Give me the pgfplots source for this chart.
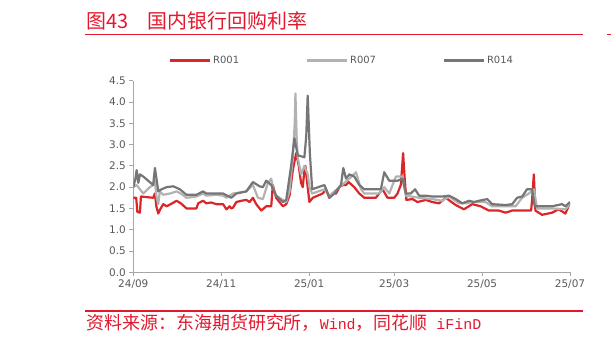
\documentclass[border=0pt]{standalone}
\usepackage{pgfplots}
\pgfplotsset{compat=1.18}
\usepackage{fontspec}
\setmainfont{DejaVu Sans}
\newfontfamily\cjk{Noto Sans CJK SC}
\newfontfamily\mono{Liberation Mono}
\definecolor{rred}{RGB}{218,37,41}
\definecolor{lgray}{RGB}{178,178,178}
\definecolor{dgray}{RGB}{118,118,118}
\definecolor{titlered}{RGB}{226,24,46}
\definecolor{tickgray}{RGB}{89,89,89}
\definecolor{axgray}{RGB}{166,166,166}
\begin{document}
\begin{tikzpicture}
\useasboundingbox (0,0) rectangle (611bp,344bp);
\clip (0,0) rectangle (611bp,344bp);
\node[anchor=base west, inner sep=0, text=titlered, font=\cjk\fontsize{20}{20}\selectfont] at (86.5bp,315.5bp) {图43\hspace{19bp}国内银行回购利率};
\draw[titlered, line width=1.5bp] (85bp,309.7bp) -- (583bp,309.7bp);
\draw[titlered, line width=1.5bp] (607bp,309.7bp) -- (611bp,309.7bp);
\draw[titlered, line width=1.3bp] (85bp,33bp) -- (583bp,33bp);
\node[anchor=base west, inner sep=0, text=titlered, font=\cjk\fontsize{18}{18}\selectfont] at (86.5bp,14.5bp) {资料来源：东海期货研究所，{\mono\fontsize{15}{15}\selectfont Wind}，同花顺{\mono\fontsize{15}{15}\selectfont\ iFinD}};
\begin{axis}[
  at={(133.3bp,71.7bp)}, anchor=south west,
  scale only axis, width=436.7bp, height=191.6bp,
  xmin=0, xmax=303, ymin=0, ymax=4.5,
  axis x line*=bottom, axis y line*=left,
  axis line style={axgray, line width=0.8bp},
  tick style={axgray, line width=0.8bp},
  tick align=outside, major tick length=4bp,
  xtick={0,61,122,181,242,303},
  xticklabels={24/09,24/11,25/01,25/03,25/05,25/07},
  ytick={0,0.5,1,1.5,2,2.5,3,3.5,4,4.5},
  /pgf/number format/assume math mode=true,
  yticklabel style={/pgf/number format/.cd, fixed, fixed zerofill, precision=1},
  tick label style={font=\fontsize{10.5}{10.5}\selectfont, text=tickgray},
  legend style={at={(0.0795,1.103)}, anchor=west, draw=none, fill=none, inner sep=0pt,
    font=\fontsize{10}{10}\selectfont, text=tickgray,
    /tikz/every even column/.append style={column sep=64bp}},
  legend columns=3,
  legend image code/.code={\draw[#1, line width=3bp] (0bp,0bp) -- (40bp,0bp);},
  every axis plot/.append style={no markers, line join=round},
]
\addplot[rred, line width=2.2bp] coordinates {
(0,1.75) (2,1.75) (2.8,1.42) (4.6,1.40) (5.3,1.78) (8,1.77) (13.8,1.75) (15,1.85) (16,1.55) (17.3,1.38) (19,1.5) (20.8,1.6) (23.1,1.55) (27,1.62) (30,1.68) (33,1.62) (36.9,1.5) (43.8,1.5) (45,1.62) (48.4,1.68) (50.7,1.62) (54,1.64) (57.6,1.6) (62.3,1.6) (64.6,1.48) (66.9,1.55) (68,1.5) (69.2,1.52) (71.5,1.65) (75,1.68) (78.4,1.70) (80.7,1.65) (83,1.75) (85.3,1.6) (88.8,1.45) (92.2,1.55) (95.7,1.55) (96.8,2.05) (99.1,1.75) (103.8,1.55) (106.1,1.6) (108.4,1.8) (110.7,2.4) (113,2.8) (114.8,2.5) (116.4,2.1) (117.6,2.0) (118.7,2.4) (119.4,2.5) (121,2.0) (122.2,1.65) (124.5,1.75) (131.4,1.85) (133.7,1.95) (136,1.75) (138.4,1.85) (140.7,1.85) (143,2.0) (145.3,2.05) (147.6,2.05) (149.4,2.12) (153.3,2.0) (154.5,1.95) (156.8,1.85) (160.3,1.75) (168.3,1.75) (172.9,1.95) (176.4,1.75) (181,1.75) (183.3,1.85) (185.6,2.05) (186.6,2.5) (187.2,2.8) (188.3,2.2) (189.5,1.7) (193.7,1.72) (197.2,1.65) (202.9,1.7) (207.5,1.65) (212.1,1.62) (216.8,1.75) (223.7,1.58) (229.4,1.48) (235.2,1.6) (241,1.55) (246.7,1.45) (253.6,1.45) (258.3,1.40) (262.9,1.45) (276,1.45) (276.7,1.7) (277.9,2.3) (279,1.45) (283.6,1.35) (290.5,1.40) (295.1,1.48) (299.8,1.38) (302,1.55) (303,1.62)
};
\addlegendentry{R001}
\addplot[lgray, line width=2.2bp] coordinates {
(0,2.0) (2.3,2.05) (4.6,1.95) (6.9,1.85) (11.5,2.0) (13.8,2.05) (15,2.15) (16,1.8) (17.3,1.6) (18.4,1.9) (20.8,1.82) (25.4,1.85) (30,1.9) (33,1.85) (36.9,1.75) (43.8,1.78) (48.4,1.85) (50.7,1.8) (57.6,1.82) (62.3,1.8) (64.6,1.75) (69.2,1.85) (75,1.88) (78.4,1.9) (83,2.05) (86.5,1.75) (89.9,1.72) (93.4,2.1) (95.7,2.2) (96.8,2.0) (99.1,1.8) (103.8,1.7) (106.1,1.65) (108.4,1.9) (110.7,2.7) (112,3.5) (112.5,4.2) (113.3,3.2) (114.1,2.7) (116.4,2.3) (118.7,2.5) (121,2.3) (122.2,2.0) (124.1,1.85) (132.6,1.95) (136.1,1.8) (143,2.0) (149.9,2.2) (154.5,2.35) (158,1.95) (160.3,1.85) (170.6,1.85) (174.1,2.0) (177.6,1.85) (182.2,2.25) (186.8,2.25) (189.1,1.8) (198.3,1.75) (207.5,1.72) (214.4,1.68) (219.1,1.78) (226,1.62) (230.6,1.62) (235.2,1.65) (244.4,1.65) (249,1.55) (258.3,1.55) (265.2,1.55) (269.8,1.75) (274.4,1.85) (277.9,1.95) (280.2,1.5) (290.5,1.5) (299.8,1.48) (303,1.6)
};
\addlegendentry{R007}
\addplot[dgray, line width=2.2bp] coordinates {
(0,2.0) (1.5,2.2) (2.3,2.4) (3.5,2.1) (4.6,2.3) (6.9,2.25) (13.8,2.05) (15,2.45) (16.5,2.1) (17.3,1.9) (19.6,1.95) (23.1,2.0) (27.7,2.02) (32.3,1.95) (36.9,1.82) (43.8,1.82) (48.4,1.9) (50.7,1.85) (57.6,1.85) (62.3,1.85) (68,1.75) (71.5,1.85) (78.4,1.9) (83,2.12) (87.6,2.02) (89.9,2.0) (92.2,2.15) (95.7,2.05) (99.1,1.8) (103.8,1.65) (106.1,1.7) (109.5,2.5) (111.8,3.15) (114.1,2.75) (118.7,2.7) (120,3.2) (121,4.15) (122.5,2.8) (124.1,1.95) (132.6,2.05) (136.1,1.75) (139.5,1.85) (144.1,2.05) (145.7,2.45) (147.6,2.2) (149.9,2.3) (153.3,2.25) (156.8,2.05) (160.3,1.95) (168.3,1.95) (171.8,1.95) (174.1,2.35) (177.6,2.15) (183.3,2.15) (186.8,2.2) (189.1,1.85) (192.5,1.85) (195.5,1.95) (198.3,1.8) (202.9,1.8) (207.5,1.78) (214.4,1.78) (219.1,1.8) (223.7,1.72) (228.3,1.62) (232.9,1.68) (236.4,1.65) (239.8,1.68) (245.6,1.72) (249,1.6) (258.3,1.58) (262.9,1.6) (266.3,1.75) (269.8,1.78) (273.2,1.95) (276.7,1.95) (278.5,1.55) (290.5,1.55) (297.5,1.6) (299.8,1.55) (303,1.65)
};
\addlegendentry{R014}
\end{axis}
\end{tikzpicture}
\end{document}
